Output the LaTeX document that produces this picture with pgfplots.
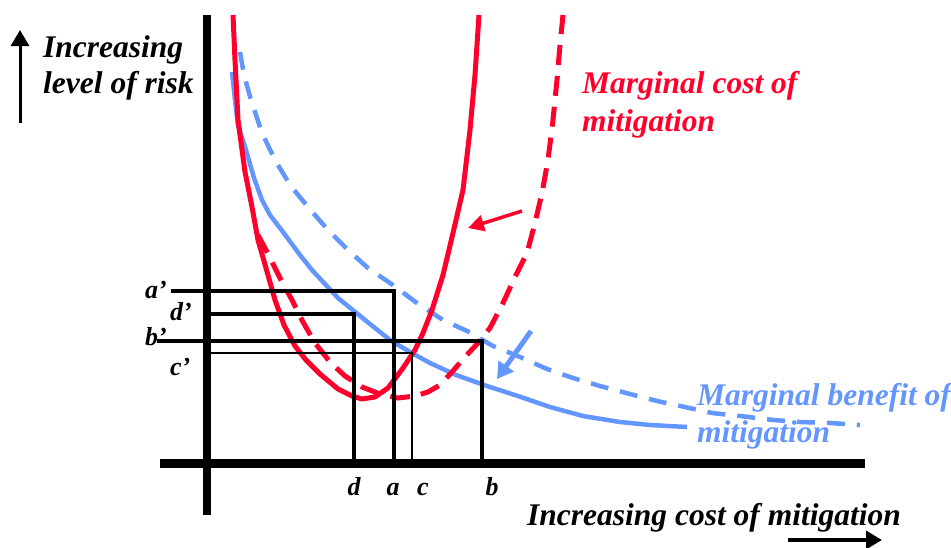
\documentclass[border=0pt]{standalone}
\usepackage{pgfplots}
\pgfplotsset{compat=1.18}
\usetikzlibrary{arrows.meta}
\usepackage{fontspec}
\setmainfont{Liberation Serif}
\definecolor{mred}{RGB}{255,0,45}
\definecolor{mblue}{RGB}{100,150,255}
\tikzset{
  big/.style={font=\fontsize{31.5}{32}\selectfont\bfseries\itshape, inner sep=0pt},
  small/.style={font=\fontsize{26}{26}\selectfont\bfseries\itshape, inner sep=0pt},
}
\begin{document}
\begin{tikzpicture}
\begin{axis}[
    hide axis, scale only axis,
    width=951pt, height=547pt,
    xmin=0, xmax=951, ymin=0, ymax=547,
    y dir=reverse, clip=false,
]
% frame corners for the bounding box
\coordinate (ll) at (axis cs:0,547);
\coordinate (ur) at (axis cs:951,0);

% marginal benefit (blue)
\addplot[mblue, line width=4.5pt, line join=round] coordinates {
(232,72) (235,100) (238,125) (246,150) (254,178) (262,200) (270,215)
(283,232) (300,255) (312,270) (338,298) (365,320) (390,340) (410,352)
(430,363) (456,375) (487,386) (518,396) (550,407) (583,416) (620,422)
(650,425) (687,427)};
\addplot[mblue, line width=4.5pt, dash pattern=on 18pt off 12pt] coordinates {
(240,52) (244,75) (251,100) (262,133) (275,160) (290,185) (308,207)
(328,230) (348,250) (368,268) (390,283) (417,303) (443,320) (467,331)
(493,346) (520,357) (547,369) (573,378) (600,386) (630,394) (657,401)
(685,407) (712,413) (740,416) (773,420) (800,422) (830,423) (860,425)};

% marginal cost (red)
\addplot[mred, line width=5pt, line join=round] coordinates {
(233,15) (235,60) (238,120) (245,172) (252,207) (258,240) (266,268)
(275,300) (284,325) (295,346) (306,360) (320,374) (338,389) (352,396)
(362,399) (375,397) (388,388) (403,368) (415,350) (423,333) (432,310)
(443,275) (453,233) (463,190) (470,130) (475,75) (479,15)};
\addplot[mred, line width=5pt, dash pattern=on 20pt off 11pt] coordinates {
(258,235) (266,250) (275,268) (282,282) (292,300) (303,322) (315,343)
(330,362) (345,376) (362,387) (380,394) (398,398) (415,396) (428,392)
(440,385) (452,372) (465,357) (478,343) (490,328) (503,303) (515,277)
(527,253) (535,223) (542,193) (548,160) (553,120) (557,80) (560,45) (563,15)};

% shift arrows
\addplot[mred, line width=3.5pt, -{Triangle[length=16pt,width=16pt]}] coordinates {(522,211) (468,228)};
\addplot[mblue, line width=5pt, -{Triangle[length=16pt,width=18pt]}] coordinates {(531,331) (497,379)};

% reference lines
\addplot[black, line width=4pt] coordinates {(171,291) (394,291) (394,462)};
\addplot[black, line width=4pt] coordinates {(207,314) (354,314) (354,462)};
\addplot[black, line width=4pt] coordinates {(157,341) (482,341) (482,462)};
\addplot[black, line width=2pt] coordinates {(207,353) (412,353) (412,462)};

% main axes
\addplot[black, line width=8pt] coordinates {(207,15) (207,515)};
\addplot[black, line width=9pt] coordinates {(160,463) (865,463)};

% direction arrows
\addplot[black, line width=3pt, -{Triangle[length=16pt,width=18pt]}] coordinates {(20,123) (20,30)};
\addplot[black, line width=3.5pt, -{Triangle[length=16pt,width=18pt]}] coordinates {(788,540) (882,540)};

% labels
\node[big, anchor=base west] at (axis cs:43,57) {Increasing};
\node[big, anchor=base west] at (axis cs:43,93) {level of risk};
\node[big, anchor=base west] at (axis cs:527,525) {Increasing cost of mitigation};
\node[big, anchor=base west, text=mred] at (axis cs:582,93) {Marginal cost of};
\node[big, anchor=base west, text=mred] at (axis cs:582,131) {mitigation};
\node[big, anchor=base west, text=mblue] at (axis cs:697,405) {Marginal benefit of};
\node[big, anchor=base west, text=mblue] at (axis cs:697,442) {mitigation};

\node[small, anchor=base west] at (axis cs:145,298) {a'};
\node[small, anchor=base west] at (axis cs:170,320) {d'};
\node[small, anchor=base west] at (axis cs:145,345) {b'};
\node[small, anchor=base west] at (axis cs:170,375) {c'};
\node[small, anchor=base] at (axis cs:354,495) {d};
\node[small, anchor=base] at (axis cs:393,495) {a};
\node[small, anchor=base] at (axis cs:423,495) {c};
\node[small, anchor=base] at (axis cs:492,495) {b};
\end{axis}
\pgfresetboundingbox
\path (ll) rectangle (ur);
\end{tikzpicture}
\end{document}
